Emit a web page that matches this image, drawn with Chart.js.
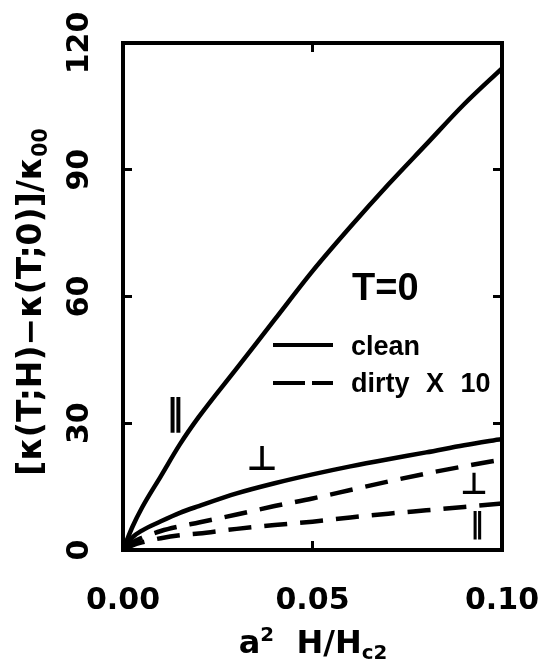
<!DOCTYPE html>
<html>
<head>
<meta charset="utf-8">
<script src="https://cdn.jsdelivr.net/npm/chart.js@4"></script>
<style>
html, body { margin: 0; padding: 0; background: #fff; }
#wrap { width: 542px; height: 663px; }
</style>
</head>
<body>
<div id="wrap"><canvas id="kappa"></canvas></div>
<script>
// reduced field a^2 H/Hc2
var fieldValues = [0, 0.0025, 0.005, 0.01, 0.015, 0.02, 0.03, 0.04, 0.05, 0.06, 0.07, 0.08, 0.09, 0.1];
// clean limit, heat current parallel / perpendicular
var cleanParallel = [0, 5.5, 10, 17.5, 25, 31.5, 43, 54.5, 66, 76.5, 86.5, 96, 105.5, 114];
var cleanPerp = [0, 3, 4.6, 6.8, 8.8, 10.4, 13.4, 15.8, 17.9, 19.8, 21.5, 23.1, 24.8, 26.3];
// dirty limit, already multiplied by 10
var dirtyPerp = [0, 1.8, 2.9, 4.5, 5.6, 6.5, 8.4, 10.4, 12.2, 14.2, 16.2, 18.1, 19.8, 21.4];
var dirtyParallel = [0, 1.1, 1.8, 2.8, 3.5, 3.9, 5.0, 5.9, 6.7, 7.7, 8.6, 9.4, 10.2, 11.0];

var xTicks = [0, 0.05, 0.1];
var yTicks = [0, 30, 60, 90, 120];

var FONT = '"DejaVu Sans", sans-serif';
var FONT2 = '"Liberation Sans", Arial, sans-serif';

function pts(ys) {
    return fieldValues.map(function (x, i) { return { x: x, y: ys[i] }; });
}

function curve(label, ys, dashed) {
    return {
        label: label,
        data: pts(ys),
        borderColor: '#000',
        borderWidth: 4.5,
        borderDash: dashed ? [23, 13] : [],
        pointRadius: 0,
        fill: false,
        cubicInterpolationMode: 'monotone'
    };
}

// draws a run of text pieces, some raised or lowered
function richText(ctx, parts, x, y, size, align) {
    var widths = parts.map(function (p) {
        ctx.font = 'bold ' + (p.sub || p.sup ? size * 0.62 : size) + 'px ' + FONT;
        return ctx.measureText(p.t).width;
    });
    var total = widths.reduce(function (a, b) { return a + b; }, 0);
    var cx = align === 'center' ? x - total / 2 : x;
    parts.forEach(function (p, i) {
        var s = p.sub || p.sup ? size * 0.62 : size;
        ctx.font = 'bold ' + s + 'px ' + FONT;
        var dy = p.sub ? size * 0.18 : (p.sup ? -size * 0.38 : 0);
        ctx.fillText(p.t, cx, y + dy);
        cx += widths[i];
    });
}

var labelsPlugin = {
    id: 'figureText',
    afterDraw: function (chart) {
        var ctx = chart.ctx;
        var a = chart.chartArea;
        var sx = chart.scales.x, sy = chart.scales.y;
        ctx.save();
        ctx.fillStyle = '#000';
        ctx.textBaseline = 'alphabetic';
        ctx.textAlign = 'left';

        // y title, rotated
        ctx.save();
        ctx.translate(41, 302);
        ctx.rotate(-Math.PI / 2);
        richText(ctx, [{ t: '[\u03ba(T;H)\u2212\u03ba(T;0)]/\u03ba' }, { t: '00', sub: true }], 0, 0, 33, 'center');
        ctx.restore();

        // x title
        richText(ctx, [{ t: 'a' }, { t: '2', sup: true }, { t: '  H/H' }, { t: 'c2', sub: true }], 313, 653, 32, 'center');

        // curve markers
        ctx.textAlign = 'center';
        ctx.textBaseline = 'middle';
        ctx.font = 'bold 36px ' + FONT;
        ctx.fillText('\u2016', sx.getPixelForValue(0.0137), sy.getPixelForValue(32));
        ctx.font = 'bold 34px ' + FONT;
        ctx.fillText('\u22a5', sx.getPixelForValue(0.0367), sy.getPixelForValue(21));
        ctx.font = 'bold 30px ' + FONT;
        ctx.fillText('\u22a5', sx.getPixelForValue(0.0926), sy.getPixelForValue(15.2));
        ctx.font = 'bold 28px ' + FONT;
        ctx.fillText('\u2016', sx.getPixelForValue(0.0934), sy.getPixelForValue(5.7));

        // T=0 and the key
        ctx.textAlign = 'left';
        ctx.textBaseline = 'alphabetic';
        ctx.font = 'bold 38px ' + FONT2;
        ctx.fillText('T=0', a.left + 229, a.top + 257);

        ctx.strokeStyle = '#000';
        ctx.lineWidth = 4;
        ctx.beginPath();
        ctx.moveTo(a.left + 150, a.top + 302);
        ctx.lineTo(a.left + 210, a.top + 302);
        ctx.stroke();
        ctx.beginPath();
        ctx.moveTo(a.left + 150, a.top + 340);
        ctx.lineTo(a.left + 182, a.top + 340);
        ctx.moveTo(a.left + 189, a.top + 340);
        ctx.lineTo(a.left + 210, a.top + 340);
        ctx.stroke();

        ctx.font = 'bold 27px ' + FONT2;
        ctx.fillText('clean', a.left + 228, a.top + 312);
        ctx.wordSpacing = '9px';
        ctx.fillText('dirty X 10', a.left + 228, a.top + 349);
        ctx.restore();
    }
};

var axisLine = { display: true, width: 4, color: '#000' };
var inwardTicks = { drawOnChartArea: false, drawTicks: true, tickLength: -9, tickWidth: 3, color: '#000' };

function setTicks(values) {
    return function (scale) {
        scale.ticks = values.map(function (v) { return { value: v }; });
    };
}

new Chart(document.getElementById('kappa'), {
    type: 'line',
    data: {
        datasets: [
            curve('clean \u2016', cleanParallel, false),
            curve('clean \u22a5', cleanPerp, false),
            curve('dirty \u22a5', dirtyPerp, true),
            curve('dirty \u2016', dirtyParallel, true)
        ]
    },
    options: {
        responsive: true,
        maintainAspectRatio: false,
        animation: false,
        devicePixelRatio: 1,
        layout: { padding: { top: 43, right: 40, left: 0, bottom: 0 } },
        plugins: { legend: { display: false }, tooltip: { enabled: false } },
        scales: {
            x: {
                type: 'linear', position: 'bottom', min: 0, max: 0.1,
                afterBuildTicks: setTicks(xTicks),
                afterFit: function (s) { s.height = 113; s.paddingLeft = 0; s.paddingRight = 0; },
                border: axisLine, grid: inwardTicks,
                ticks: {
                    color: '#000', padding: 42, maxRotation: 0,
                    font: { family: FONT, size: 30, weight: 'bold' },
                    callback: function (v) { return v.toFixed(2); }
                }
            },
            y: {
                type: 'linear', position: 'left', min: 0, max: 120,
                afterBuildTicks: setTicks(yTicks),
                afterFit: function (s) { s.width = 123; s.paddingTop = 0; s.paddingBottom = 0; },
                border: axisLine, grid: inwardTicks,
                ticks: {
                    color: '#000', padding: 20, minRotation: 90, maxRotation: 90,
                    crossAlign: 'center',
                    font: { family: FONT, size: 30, weight: 'bold' },
                    callback: function (v) { return String(v); }
                }
            },
            xTop: {
                type: 'linear', position: 'top', min: 0, max: 0.1,
                afterBuildTicks: setTicks(xTicks),
                afterFit: function (s) { s.height = 0; s.paddingLeft = 0; s.paddingRight = 0; },
                border: axisLine, grid: inwardTicks,
                ticks: { display: false }
            },
            yRight: {
                type: 'linear', position: 'right', min: 0, max: 120,
                afterBuildTicks: setTicks(yTicks),
                afterFit: function (s) { s.width = 0; s.paddingTop = 0; s.paddingBottom = 0; },
                border: axisLine, grid: inwardTicks,
                ticks: { display: false }
            }
        }
    },
    plugins: [labelsPlugin]
});
</script>
</body>
</html>
